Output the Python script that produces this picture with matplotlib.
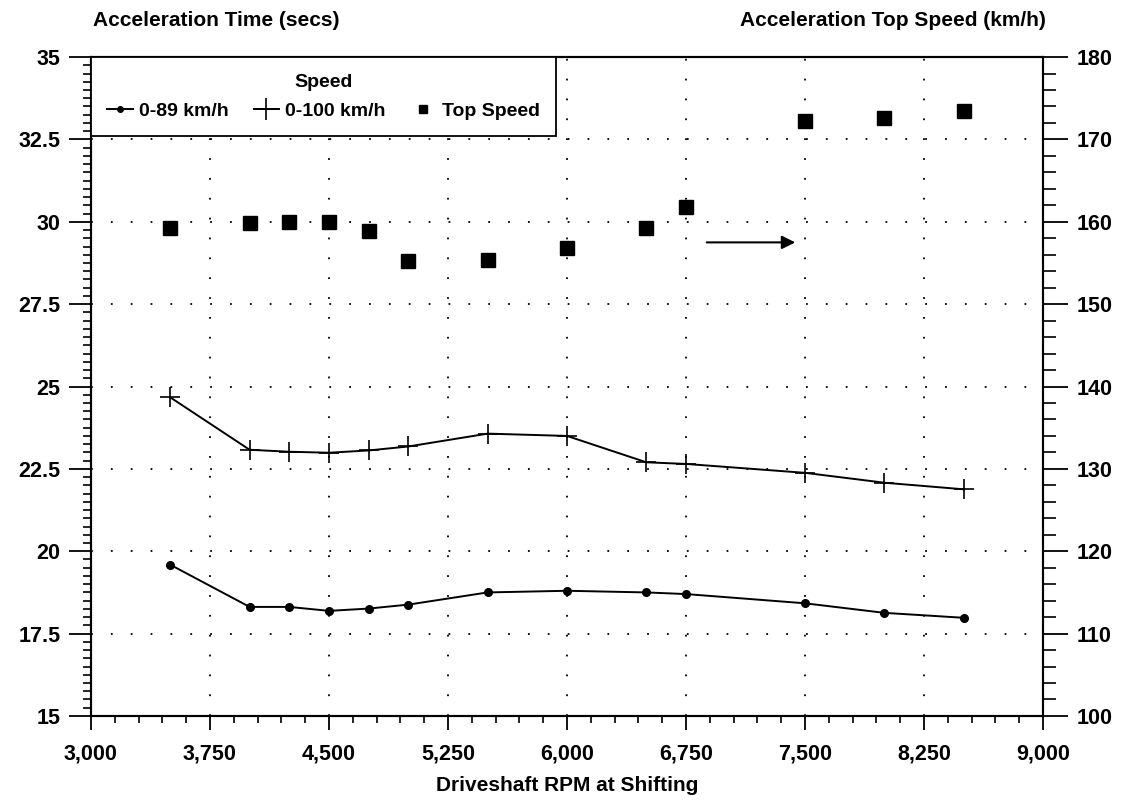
import numpy as np
import matplotlib
matplotlib.use("Agg")
import matplotlib.pyplot as plt
from matplotlib.ticker import MultipleLocator, FuncFormatter
from matplotlib.lines import Line2D

rpm = [3500, 4000, 4250, 4500, 4750, 5000, 5500, 6000, 6500, 6750, 7500, 8000, 8500]
t_0_89 = [19.59, 18.31, 18.31, 18.19, 18.26, 18.38, 18.75, 18.80, 18.75, 18.70, 18.42, 18.13, 17.98]
t_0_100 = [24.67, 23.08, 23.02, 22.99, 23.06, 23.18, 23.57, 23.50, 22.70, 22.65, 22.38, 22.08, 21.88]
top_speed = [159.2, 159.9, 159.95, 160.0, 158.9, 155.3, 155.4, 156.8, 159.2, 161.8, 172.2, 172.6, 173.5]

plt.rcParams['font.family'] = ['Liberation Sans', 'DejaVu Sans']
plt.rcParams['font.weight'] = 'bold'
plt.rcParams['axes.labelweight'] = 'bold'
plt.rcParams['font.size'] = 15.5

fig = plt.figure(figsize=(11.23, 8.05), dpi=100)
ax = fig.add_axes([0.081, 0.1106, 0.8478, 0.8185])
ax2 = ax.twinx()

# grid
ax.set_xlim(3000, 9000)
ax.set_ylim(15, 35)
ax2.set_ylim(100, 180)
ax.xaxis.set_major_locator(MultipleLocator(750))
ax.xaxis.set_minor_locator(MultipleLocator(150))
ax.yaxis.set_major_locator(MultipleLocator(2.5))
ax.yaxis.set_minor_locator(MultipleLocator(0.25))
ax2.yaxis.set_major_locator(MultipleLocator(10))
ax2.yaxis.set_minor_locator(MultipleLocator(2))
ax.xaxis.set_major_formatter(FuncFormatter(lambda v, p: f"{int(v):,}"))
ax.yaxis.set_major_formatter(FuncFormatter(lambda v, p: f"{v:g}"))
ax.grid(True, which='major', color='black', linestyle=(0, (1, 10)), linewidth=1.3)

ax.tick_params(axis='x', which='major', direction='out', length=10, width=1.3, pad=10)
ax.tick_params(axis='x', which='minor', direction='out', length=5, width=1.2)
ax.tick_params(axis='y', which='major', direction='out', length=16, width=1.3, pad=6)
ax.tick_params(axis='y', which='minor', direction='out', length=6, width=1.2)
ax2.tick_params(axis='y', which='major', direction='out', length=18, width=1.3, pad=6)
ax2.tick_params(axis='y', which='minor', direction='out', length=9, width=1.2)
for a in (ax, ax2):
    for s in a.spines.values():
        s.set_linewidth(1.5)

ax.plot(rpm, t_0_89, color='black', lw=1.4, marker='o', ms=5.5)
ax.plot(rpm, t_0_100, color='black', lw=1.4, marker='+', ms=14, mew=1.2)
ax2.plot(rpm, top_speed, ls='none', color='black', marker='s', ms=10)

ax2.annotate('', xy=(7456, 157.5), xytext=(6863, 157.5),
             arrowprops=dict(arrowstyle='-|>', color='black', lw=1.5, mutation_scale=20))

handles = [
    Line2D([], [], color='black', lw=1.4, marker='o', ms=4),
    Line2D([], [], color='black', lw=1.4, marker='+', ms=16, mew=1.2),
    Line2D([], [], ls='none', color='black', marker='s', ms=6),
]
leg = ax2.legend(handles, ['0-89 km/h', '0-100 km/h', 'Top Speed'], title='Speed',
                 ncol=3, loc='upper left', bbox_to_anchor=(0, 1), borderaxespad=0,
                 fancybox=False, edgecolor='black', framealpha=1, fontsize=14,
                 title_fontsize=14, handlelength=1.3, handletextpad=0.3,
                 columnspacing=1.3, borderpad=0.85, labelspacing=0.6)
leg.get_frame().set_linewidth(1.3)

fig.text(0.083, 0.975, 'Acceleration Time (secs)', ha='left', va='center', fontsize=15)
fig.text(0.931, 0.975, 'Acceleration Top Speed (km/h)', ha='right', va='center', fontsize=15)
ax.set_xlabel('Driveshaft RPM at Shifting', fontsize=15, labelpad=8)

fig.savefig('out.png', dpi=100)
